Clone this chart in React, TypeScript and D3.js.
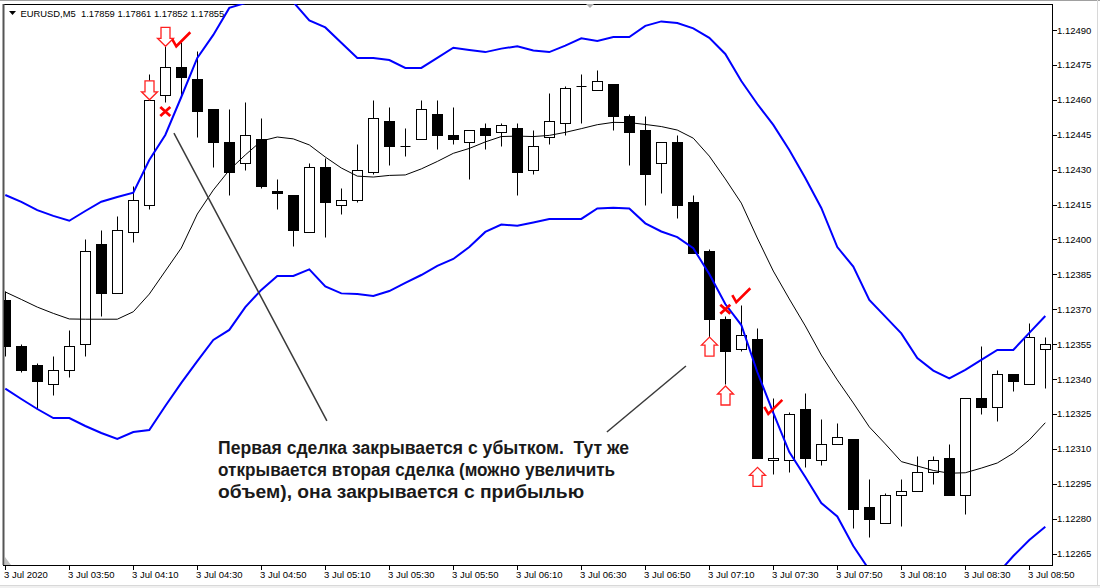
import React from "react";
import * as d3 from "d3";

// ---------- data ----------
const symbolTitle = "EURUSD,M5  1.17859 1.17861 1.17852 1.17855";

const opens = [
  1.12374, 1.12354, 1.12346, 1.12338, 1.12344, 1.12355, 1.12398, 1.12377, 1.12403, 1.12415,
  1.12462, 1.12474, 1.12469, 1.12456, 1.12442, 1.12433, 1.12443, 1.12421, 1.12419, 1.12403,
  1.12431, 1.12415, 1.12417, 1.12429, 1.12451, 1.1244, 1.12443, 1.12454, 1.12445, 1.12442,
  1.12448, 1.12446, 1.12448, 1.1243, 1.12444, 1.1245, 1.12466, 1.12464, 1.12467, 1.12453,
  1.12447, 1.12433, 1.12442, 1.12416, 1.12395, 1.12366, 1.12353, 1.12357, 1.12305, 1.12305,
  1.12327, 1.12305, 1.12312, 1.12314, 1.12285, 1.12278, 1.1229, 1.12292, 1.123, 1.12306,
  1.1229, 1.12332, 1.12328, 1.12342, 1.12338, 1.12353,
];
const highs = [
  1.12378, 1.12355, 1.12347, 1.1235, 1.12361, 1.124, 1.12404, 1.1241, 1.12423, 1.12471,
  1.12483, 1.12485, 1.12481, 1.12456, 1.12456, 1.12459, 1.12452, 1.12426, 1.12419, 1.12433,
  1.12435, 1.12422, 1.12441, 1.1246, 1.12457, 1.12448, 1.1246, 1.1246, 1.12457, 1.12447,
  1.1245, 1.1245, 1.1245, 1.12447, 1.12463, 1.12466, 1.12471, 1.12473, 1.12467, 1.12454,
  1.12453, 1.12442, 1.12445, 1.12419, 1.12396, 1.12367, 1.12372, 1.12362, 1.12332, 1.12326,
  1.12334, 1.12323, 1.12321, 1.12314, 1.12297, 1.12291, 1.12297, 1.12307, 1.12307, 1.12312,
  1.12332, 1.12354, 1.12344, 1.12342, 1.12364, 1.12358,
];
const lows = [
  1.1235, 1.12343, 1.12327, 1.12333, 1.12341, 1.1235, 1.12367, 1.12377, 1.12399, 1.12413,
  1.12459, 1.12461, 1.12444, 1.12431, 1.12419, 1.1243, 1.12422, 1.12413, 1.12397, 1.12403,
  1.12401, 1.12411, 1.12416, 1.12428, 1.12432, 1.12436, 1.12443, 1.12439, 1.12441, 1.12426,
  1.12439, 1.1244, 1.12419, 1.12428, 1.12441, 1.12445, 1.1245, 1.12464, 1.12447, 1.12432,
  1.12415, 1.1242, 1.12409, 1.12394, 1.12356, 1.12338, 1.12352, 1.12306, 1.12299, 1.123,
  1.12302, 1.12303, 1.12312, 1.12276, 1.12272, 1.12278, 1.12277, 1.12292, 1.12295, 1.1229,
  1.12282, 1.12325, 1.12322, 1.12335, 1.12338, 1.12336,
];
const closes = [
  1.12354, 1.12344, 1.12339, 1.12344, 1.12354, 1.12395, 1.12377, 1.12404, 1.12417, 1.1246,
  1.12474, 1.1247, 1.12455, 1.12442, 1.12429, 1.12445, 1.12423, 1.1242, 1.12404, 1.12431,
  1.12416, 1.12417, 1.1243, 1.12452, 1.1244, 1.1244, 1.12456, 1.12445, 1.12443, 1.12447,
  1.12445, 1.12449, 1.12429, 1.1244, 1.12451, 1.12465, 1.12466, 1.12468, 1.12453, 1.12446,
  1.12428, 1.12442, 1.12415, 1.12394, 1.12366, 1.12352, 1.12359, 1.12306, 1.12306, 1.12325,
  1.12306, 1.12312, 1.12315, 1.12284, 1.1228, 1.1229, 1.12292, 1.123, 1.12305, 1.1229,
  1.12332, 1.12328, 1.12342, 1.12339, 1.12358, 1.12355,
];

// Bollinger bands
const bbUpper = [
  1.124191, 1.124161, 1.124126, 1.124101, 1.12408, 1.124122, 1.124162, 1.124182, 1.124201, 1.124341,
  1.124449, 1.124612, 1.12478, 1.124879, 1.124995, 1.125016, 1.125063, 1.125038, 1.12502, 1.124941,
  1.124911, 1.124845, 1.12478, 1.12478, 1.124771, 1.124737, 1.124737, 1.12478, 1.124824, 1.124814,
  1.124805, 1.12482, 1.12483, 1.124812, 1.124805, 1.124833, 1.124864, 1.124853, 1.12487, 1.12487,
  1.124918, 1.124937, 1.12493, 1.124907, 1.124866, 1.124797, 1.124681, 1.124582, 1.124492, 1.124384,
  1.124264, 1.124135, 1.123967, 1.123883, 1.12374, 1.123668, 1.123596, 1.12349, 1.123436, 1.123403,
  1.123439, 1.123482, 1.123525, 1.123525, 1.123598, 1.123671,
];
const bbMiddle = [
  1.123774, 1.123742, 1.123709, 1.123682, 1.123658, 1.123657, 1.123657, 1.123657, 1.123689, 1.123765,
  1.123864, 1.123963, 1.124109, 1.124212, 1.124298, 1.124363, 1.124423, 1.12444, 1.124432, 1.124406,
  1.124354, 1.124307, 1.124272, 1.124268, 1.124275, 1.124277, 1.124303, 1.124335, 1.12437, 1.124391,
  1.124419, 1.124442, 1.124444, 1.124442, 1.124447, 1.12446, 1.124476, 1.124493, 1.124503, 1.124502,
  1.124494, 1.124485, 1.12447, 1.124435, 1.124358, 1.12426, 1.124156, 1.124006, 1.123864, 1.123744,
  1.123628, 1.123503, 1.123396, 1.123297, 1.123194, 1.123121, 1.123045, 1.123026, 1.123007, 1.122995,
  1.122997, 1.123017, 1.123039, 1.123081, 1.123138, 1.123212,
];
const bbLower = [
  1.123359, 1.123314, 1.123271, 1.123232, 1.123232, 1.123198, 1.123168, 1.123142, 1.123172, 1.123181,
  1.123284, 1.123383, 1.123477, 1.123568, 1.123611, 1.123709, 1.123783, 1.123843, 1.123843, 1.123871,
  1.123798, 1.123768, 1.123765, 1.123757, 1.123778, 1.123813, 1.123847, 1.123886, 1.123916, 1.123967,
  1.124032, 1.124064, 1.124059, 1.124073, 1.124088, 1.124088, 1.124088, 1.124133, 1.124136, 1.124133,
  1.124069, 1.124034, 1.12401, 1.123962, 1.123851, 1.123722, 1.123632, 1.12343, 1.123254, 1.123086,
  1.122979, 1.122867, 1.122809, 1.122682, 1.122579, 1.122536, 1.122502, 1.122545, 1.12257, 1.122579,
  1.122558, 1.122553, 1.122562, 1.122639, 1.122708, 1.122765,
];

const priceTicks = [
  1.1249, 1.12475, 1.1246, 1.12445, 1.1243, 1.12415, 1.124, 1.12385, 1.1237, 1.12355,
  1.1234, 1.12325, 1.1231, 1.12295, 1.1228, 1.12265,
];
const timeTickLabels = [
  "3 Jul 2020", "3 Jul 03:50", "3 Jul 04:10", "3 Jul 04:30", "3 Jul 04:50", "3 Jul 05:10",
  "3 Jul 05:30", "3 Jul 05:50", "3 Jul 06:10", "3 Jul 06:30", "3 Jul 06:50", "3 Jul 07:10",
  "3 Jul 07:30", "3 Jul 07:50", "3 Jul 08:10", "3 Jul 08:30", "3 Jul 08:50",
];
const barsPerTimeTick = 4;

// trade markers: candle index + price
const downArrows = [
  { i: 9, p: 1.1246 },
  { i: 10, p: 1.12483 },
];
const upArrows = [
  { i: 44, p: 1.12358 },
  { i: 45, p: 1.12337 },
  { i: 47, p: 1.12302 },
];
const checkMarks = [
  { i: 11, p: 1.12483 },
  { i: 46, p: 1.12373 },
  { i: 48, p: 1.12325 },
];
const crossMarks = [
  { i: 10, p: 1.12455 },
  { i: 45, p: 1.1237 },
];
const pointerLines = [
  { i1: 10.54, p1: 1.124457, i2: 20.1, p2: 1.12322 },
  { i1: 42.54, p1: 1.123456, i2: 37.6, p2: 1.123172 },
];
const noteLines = [
  "Первая сделка закрывается с убытком.  Тут же",
  "открывается вторая сделка (можно увеличить",
  "объем), она закрывается с прибылью",
];
const noteAnchor = { i: 13.3, p: 1.123076 };

// ---------- layout ----------
const W = 1100;
const H = 588;
const plot = { left: 4, right: 1052, top: 4, bottom: 565 };
const FONT = "'Liberation Sans', Arial, sans-serif";
const noteLineWidths = [411, 397, 366];

export default function App() {
  const n = opens.length;
  const x = d3.scaleLinear().domain([0, n - 1]).range([5.3, 1045.3]);
  const y = d3.scaleLinear().domain([1.12265, 1.1249]).range([553.5, 30]);
  const px = (i: number) => Math.round(x(i)) + 0.5;
  const py = (p: number) => Math.round(y(p)) + 0.5;

  const line = d3
    .line<number>()
    .x((_, i) => x(i))
    .y((d) => y(d));

  const candles = d3.range(n).map((i) => {
    const o = opens[i], h = highs[i], l = lows[i], c = closes[i];
    const cx = px(i);
    const top = py(Math.max(o, c));
    const bot = py(Math.min(o, c));
    const bull = c > o;
    return (
      <g key={i}>
        <line x1={cx} x2={cx} y1={py(h)} y2={py(l)} stroke="#000" strokeWidth={1} />
        {top === bot ? (
          <line x1={cx - 5} x2={cx + 5} y1={top} y2={top} stroke="#000" strokeWidth={1} />
        ) : (
          <rect
            x={cx - 5}
            y={top}
            width={10}
            height={bot - top}
            fill={bull ? "#fff" : "#000"}
            stroke="#000"
            strokeWidth={1}
          />
        )}
      </g>
    );
  });

  const arrowPath = (cx: number, ty: number, dir: 1 | -1) => {
    // dir 1 = pointing down (tip at ty), -1 = pointing up
    const hw = 8, sw = 4.5, hh = 8, sh = 11;
    const b = ty - dir * hh;
    const t = b - dir * sh;
    return `M${cx},${ty} L${cx - hw},${b} L${cx - sw},${b} L${cx - sw},${t} L${cx + sw},${t} L${cx + sw},${b} L${cx + hw},${b} Z`;
  };

  const noteX = x(noteAnchor.i);

  return (
    <div style={{ position: "fixed", left: 0, top: 0, width: W, height: H }}>
      <svg width={W} height={H} style={{ display: "block" }}>
        <defs>
          <clipPath id="plotClip">
            <rect x={plot.left} y={plot.top} width={plot.right - plot.left} height={plot.bottom - plot.top} />
          </clipPath>
        </defs>
        <rect x={0} y={0} width={W} height={H} fill="#fff" />
        <rect x={0} y={585} width={W} height={3} fill="#f0f0f0" />
        <line x1={0} x2={W} y1={585.5} y2={585.5} stroke="#d8d8d8" />
        <line x1={0} x2={W} y1={0.5} y2={0.5} stroke="#a0a0a0" />
        <line x1={W - 2.5} x2={W - 2.5} y1={0} y2={586} stroke="#d8d8d8" />

        {/* frame */}
        <line x1={plot.left - 1} x2={plot.right} y1={plot.top + 0.5} y2={plot.top + 0.5} stroke="#000" />
        <line x1={plot.left - 0.5} x2={plot.left - 0.5} y1={plot.top} y2={plot.bottom} stroke="#555" strokeWidth={2} />
        <line x1={plot.right + 0.5} x2={plot.right + 0.5} y1={plot.top} y2={plot.bottom + 1} stroke="#000" />
        <line x1={plot.left - 1} x2={plot.right + 1} y1={plot.bottom + 0.5} y2={plot.bottom + 0.5} stroke="#000" />

        <g clipPath="url(#plotClip)">
          {candles}
          <path d={line(bbMiddle) || ""} fill="none" stroke="#000" strokeWidth={1} />
          <path d={line(bbUpper) || ""} fill="none" stroke="#0000ff" strokeWidth={2} />
          <path d={line(bbLower) || ""} fill="none" stroke="#0000ff" strokeWidth={2} />

          {pointerLines.map((l, k) => (
            <line key={k} x1={x(l.i1)} y1={y(l.p1)} x2={x(l.i2)} y2={y(l.p2)} stroke="#3a3a3a" strokeWidth={1.5} />
          ))}

          {downArrows.map((a, k) => (
            <path key={"d" + k} d={arrowPath(px(a.i), y(a.p), 1)} fill="#fff" stroke="#ff2020" strokeWidth={1.3} />
          ))}
          {upArrows.map((a, k) => (
            <path key={"u" + k} d={arrowPath(px(a.i), y(a.p), -1)} fill="#fff" stroke="#ff2020" strokeWidth={1.3} />
          ))}
          {checkMarks.map((c, k) => {
            const cx = x(c.i), vy = y(c.p);
            return (
              <path
                key={"c" + k}
                d={`M${cx - 9},${vy - 7} L${cx - 5},${vy} L${cx + 9},${vy - 14}`}
                fill="none"
                stroke="#ff0000"
                strokeWidth={2.6}
                strokeLinejoin="miter"
              />
            );
          })}
          {crossMarks.map((c, k) => {
            const cx = x(c.i), cy = y(c.p);
            return (
              <path
                key={"x" + k}
                d={`M${cx - 5},${cy - 4.5} L${cx + 5},${cy + 4.5} M${cx + 5},${cy - 4.5} L${cx - 5},${cy + 4.5}`}
                stroke="#ff0000"
                strokeWidth={2.8}
              />
            );
          })}

          {noteLines.map((t, k) => (
            <text
              key={k}
              x={noteX}
              y={y(noteAnchor.p) + k * 22}
              fontFamily={FONT}
              fontSize={17.5}
              fontWeight={700}
              fill="#1a1a1a"
              textLength={noteLineWidths[k]}
              lengthAdjust="spacingAndGlyphs"
              style={{ whiteSpace: "pre" }}
            >
              {t}
            </text>
          ))}
        </g>

        {/* small MT4 markers */}
        <path d="M586,4 L594,4 L590,8 Z" fill="#b0b0b0" />
        <path d="M5,557 L5,565 L11,565 Z" fill="#c0c0c0" />

        {/* header */}
        <path d="M9,11 L16,11 L12.5,15 Z" fill="#000" />
        <text x={20.5} y={16.5} fontFamily={FONT} fontSize={9.4} fill="#000" style={{ whiteSpace: "pre" }}>
          {symbolTitle}
        </text>

        {/* price axis */}
        {priceTicks.map((p, k) => (
          <g key={k}>
            <line x1={plot.right + 1} x2={plot.right + 5} y1={py(p)} y2={py(p)} stroke="#000" />
            <text x={1057} y={y(p) + 3.5} fontFamily={FONT} fontSize={9.5} fill="#000">
              {p.toFixed(5)}
            </text>
          </g>
        ))}

        {/* time axis */}
        {timeTickLabels.map((t, k) => {
          const tx = px(k * barsPerTimeTick);
          return (
            <g key={k}>
              <line x1={tx} x2={tx} y1={plot.bottom + 1} y2={plot.bottom + 5} stroke="#000" />
              <text x={tx - 1.5} y={578} fontFamily={FONT} fontSize={9.5} fill="#000">
                {t}
              </text>
            </g>
          );
        })}
      </svg>
    </div>
  );
}
